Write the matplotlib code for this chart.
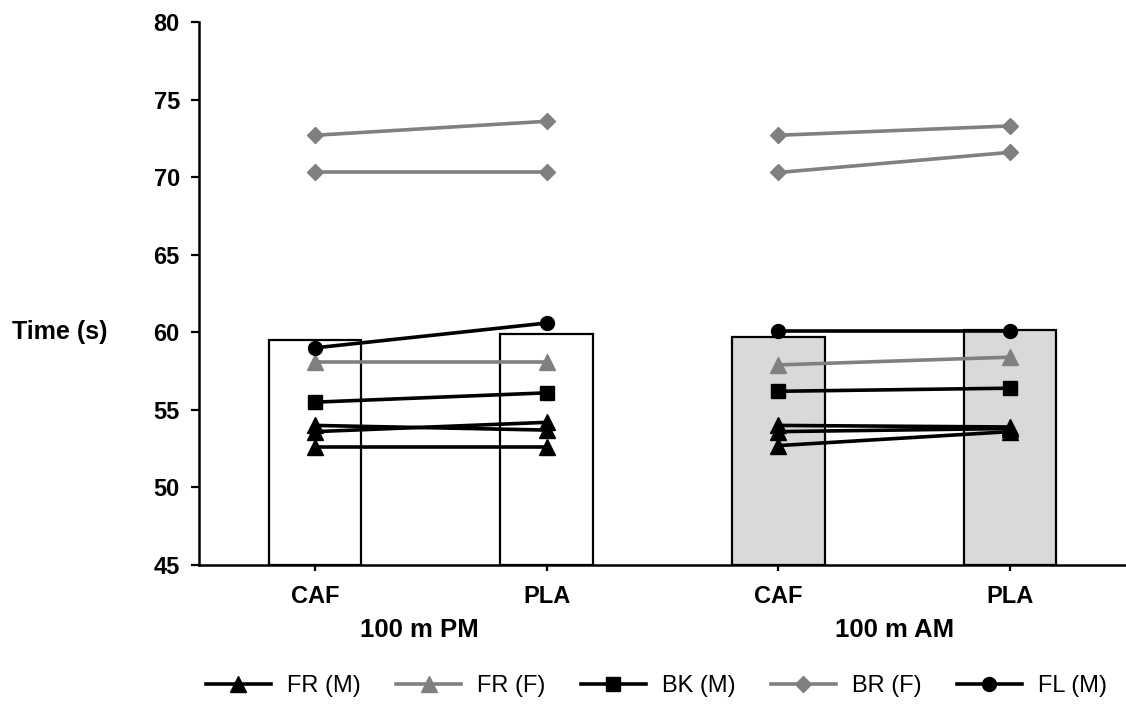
import matplotlib
matplotlib.use('Agg')
import matplotlib.pyplot as plt
from matplotlib.lines import Line2D

plt.rcParams['font.family'] = ['Liberation Sans', 'DejaVu Sans']

conditions = ['CAF', 'PLA', 'CAF', 'PLA']
groups = ['100 m PM', '100 m AM']
bar_means = [59.5, 59.9, 59.7, 60.15]
bar_fills = ['white', 'white', '#d9d9d9', '#d9d9d9']

# each swimmer: (CAF, PLA) for PM then AM
fr_m_pm = [(54.0, 53.7), (53.6, 54.2), (52.6, 52.6)]
fr_m_am = [(54.0, 53.9), (53.6, 53.8), (52.7, 53.6)]
fr_f_pm = [(58.1, 58.1)]
fr_f_am = [(57.9, 58.4)]
bk_m_pm = [(55.5, 56.1)]
bk_m_am = [(56.2, 56.4)]
br_f_pm = [(72.7, 73.6), (70.3, 70.3)]
br_f_am = [(72.7, 73.3), (70.3, 71.6)]
fl_m_pm = [(59.0, 60.6)]
fl_m_am = [(60.1, 60.1)]

series = [
    ('FR (M)', 'black', '^', fr_m_pm, fr_m_am),
    ('FR (F)', '#808080', '^', fr_f_pm, fr_f_am),
    ('BK (M)', 'black', 's', bk_m_pm, bk_m_am),
    ('BR (F)', '#808080', 'D', br_f_pm, br_f_am),
    ('FL (M)', 'black', 'o', fl_m_pm, fl_m_am),
]
msize = {'^': 11, 's': 10, 'D': 8.5, 'o': 10}

fig = plt.figure(figsize=(11.26, 7.09), dpi=100)
ax = fig.add_axes([0.177, 0.203, 0.823, 0.766])

x = list(range(len(conditions)))
ax.bar(x, [m - 45 for m in bar_means], bottom=45, width=0.4,
       color=bar_fills, edgecolor='black', linewidth=1.6, zorder=1)

handles = []
for name, col, mk, pm, am in series:
    for gi, vals in enumerate([pm, am]):
        for caf, pla in vals:
            ax.plot([2 * gi, 2 * gi + 1], [caf, pla], color=col, marker=mk,
                    markersize=msize[mk], linewidth=2.6, zorder=3)
    handles.append(Line2D([], [], color=col, marker=mk, markersize=msize[mk],
                          linewidth=2.6, label=name))

ax.set_xlim(-0.5, 3.5)
ax.set_ylim(45, 80)
ax.set_yticks(range(45, 81, 5))
ax.set_xticks(x)
ax.set_xticklabels(conditions, fontsize=17, fontweight='bold')
for lab in ax.get_yticklabels():
    lab.set_fontsize(17)
    lab.set_fontweight('bold')
ax.tick_params(axis='both', direction='out', length=6, width=1.6, pad=8)
ax.tick_params(axis='x', length=4, pad=10)
for s in ['top', 'right']:
    ax.spines[s].set_visible(False)
for s in ['left', 'bottom']:
    ax.spines[s].set_linewidth(1.8)

ax.text(0.45, -0.097, groups[0], transform=ax.get_xaxis_transform(),
        ha='center', va='top', fontsize=18.5, fontweight='bold')
ax.text(2.5, -0.097, groups[1], transform=ax.get_xaxis_transform(),
        ha='center', va='top', fontsize=18.5, fontweight='bold')

fig.text(60 / 1126, 1 - 332 / 709, 'Time (s)', ha='center', va='center',
         fontsize=18, fontweight='bold')

fig.legend(handles=handles, loc='center', bbox_to_anchor=(0.583, 1 - 686 / 709),
           ncol=5, frameon=False, fontsize=17, handlelength=2.75,
           columnspacing=1.5, handletextpad=0.68)

fig.savefig('out.png', dpi=100)
